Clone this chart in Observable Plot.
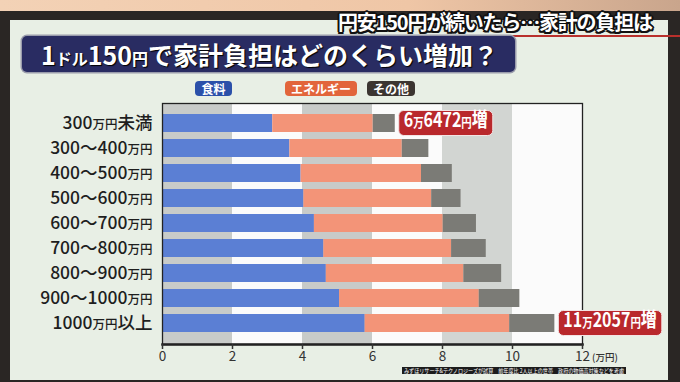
<!DOCTYPE html>
<html><head><meta charset="utf-8">
<script src="https://cdn.jsdelivr.net/npm/d3@7"></script>
<script src="https://cdn.jsdelivr.net/npm/@observablehq/plot@0.6"></script>
<style>
html,body{margin:0;padding:0;}
body{width:680px;height:382px;overflow:hidden;position:relative;background:linear-gradient(90deg,#f3d2b6,#efc6a6 60%,#c9a58c);font-family:"Noto Sans CJK JP",sans-serif;}
#frame{position:absolute;left:0;top:11px;width:680px;height:371px;background:#2a2624;}
#board{position:absolute;left:10px;top:20px;width:658px;height:360px;background:#e8efe5;}
#chart{position:absolute;left:0;top:0;width:680px;height:382px;}
#redline{position:absolute;left:335px;top:35px;width:345px;height:2px;background:#b9302c;}
#header{position:absolute;left:338px;top:7px;font-size:20px;font-weight:700;color:#fff;white-space:nowrap;letter-spacing:-1.2px;
  text-shadow:-2px 0 #111,2px 0 #111,0 -2px #111,0 2px #111,-1.5px -1.5px #111,1.5px 1.5px #111,-1.5px 1.5px #111,1.5px -1.5px #111;}
#title{position:absolute;left:22px;top:36px;width:493px;height:36px;background:#292c62;border-radius:5px;box-shadow:0 0 0 1.5px #9a9cac;}
#titletext{position:absolute;left:19px;top:0;line-height:36px;font-size:25px;font-weight:700;color:#fff;white-space:nowrap;
  text-shadow:1px 1px 1px #000;}
#titletext .s{font-size:16px;}
.pill{position:absolute;top:81px;height:15px;line-height:15px;border-radius:4px;color:#fff;font-size:12px;font-weight:700;text-align:center;}
#caption{position:absolute;left:402px;top:367px;width:224px;height:7px;background:#1c1c1c;overflow:hidden;}
#captext{position:absolute;left:2px;top:0;font-size:6px;line-height:7px;color:#fff;white-space:nowrap;transform-origin:0 0;}
</style></head>
<body>
<div id="frame"></div>
<div id="board"></div>
<div id="chart"></div>
<div id="redline"></div>
<div id="header">円安150円が続いたら…家計の負担は</div>
<div id="title"><div id="titletext">1<span class="s">ドル</span>150<span class="s">円</span>で家計負担はどのくらい増加？</div></div>
<div class="pill" style="left:195px;width:37px;background:#2b50a9">食料</div>
<div class="pill" style="left:285px;width:72px;background:#e2653b">エネルギー</div>
<div class="pill" style="left:367px;width:48px;background:#3b3531">その他</div>
<div id="caption"><div id="captext">みずほリサーチ&amp;テクノロジーズが試算　前年度比 2人以上の世帯　政府の物価高対策などを考慮</div></div>
<script>
const categories = ["300万円未満","300〜400万円","400〜500万円","500〜600万円","600〜700万円","700〜800万円","800〜900万円","900〜1000万円","1000万円以上"];
const types = ["食料","エネルギー","その他"];
const food   = [3.15,3.64,3.96,4.04,4.34,4.61,4.68,5.06,5.79];
const energy = [2.87,3.21,3.44,3.65,3.68,3.65,3.93,3.99,4.13];
const other  = [0.63,0.76,0.88,0.84,0.95,0.99,1.08,1.16,1.29];
const xTicks = [0,2,4,6,8,10,12];
const bandCols = [[0,2,"a"],[4,6,"a"],[8,10,"b"]];
const callouts = [{cat:"300万円未満", parts:[["6",1],["万",0],["6472",1],["円",0],["増",1]]},
                  {cat:"1000万円以上", parts:[["11",1],["万",0],["2057",1],["円",0],["増",1]]}];

const series = [food, energy, other];
const rows = [];
categories.forEach((c,i)=>types.forEach((t,j)=>rows.push({cat:c,type:t,value:series[j][i]})));
const totals = categories.map((c,i)=>food[i]+energy[i]+other[i]);
const cols = bandCols.map(([a,b,k])=>({x1:a,x2:b,k}));

const plot = Plot.plot({
  width:680, height:382,
  marginLeft:162, marginRight:98, marginTop:103, marginBottom:38,
  style:{background:"transparent", fontFamily:"'Noto Sans CJK JP', sans-serif", color:"#1e1e1e", overflow:"visible"},
  x:{domain:[0,12], label:null},
  y:{domain:categories, paddingInner:0.27, paddingOuter:0.27, label:null},
  color:{domain:types, range:["#5b7fd4","#f39478","#7b7b76"]},
  marks:[
    Plot.frame({fill:"#fbfbfb"}),
    Plot.rect(cols,{x1:"x1",x2:"x2",fill:d=>d.k==="a"?"#c8cbc9":"#d2d5d2"}),
    Plot.barX(rows, Plot.stackX({x:"value", y:"cat", fill:"type", order:null})),
    Plot.frame({stroke:"#222", strokeWidth:1.3}),
    Plot.frame({anchor:"bottom", stroke:"#222", strokeWidth:2.5}),
    Plot.axisX({ticks:xTicks, tickSize:5, tickPadding:2, fontSize:13.5, stroke:"#333", strokeWidth:1.5, fill:"#333", label:null}),
    Plot.axisY({tickSize:0, tickPadding:10, fontSize:17.5, fontWeight:500, fill:"#1e1e1e", label:null})
  ]
});
document.getElementById("chart").appendChild(plot);

const NS = "http://www.w3.org/2000/svg";
plot.querySelectorAll('[aria-label="y-axis tick label"] text').forEach(t=>{
  const s = t.textContent; const p = s.split("万円");
  t.textContent = "";
  const a = document.createElementNS(NS,"tspan"); a.textContent = p[0]; t.appendChild(a);
  const b = document.createElementNS(NS,"tspan"); b.textContent = "万円"; b.setAttribute("font-size","12.5"); t.appendChild(b);
  if (p[1]) { const c = document.createElementNS(NS,"tspan"); c.textContent = p[1]; t.appendChild(c); }
});

const xs = plot.scale("x"), ys = plot.scale("y");
const bw = ys.bandwidth;
const unit = document.createElementNS(NS,"text");
unit.setAttribute("x", xs.apply(12)+10); unit.setAttribute("y", 382-38+17);
unit.setAttribute("text-anchor","start");
unit.setAttribute("font-size","9.5"); unit.setAttribute("font-weight","500"); unit.setAttribute("fill","#333");
unit.textContent = "(万円)";
plot.appendChild(unit);

callouts.forEach(co=>{
  const i = categories.indexOf(co.cat);
  const px = xs.apply(totals[i]) + 4;
  const cy = ys.apply(co.cat) + bw/2;
  const g = document.createElementNS(NS,"g");
  g.setAttribute("transform", `translate(${px},${cy})`);
  const r = document.createElementNS(NS,"rect");
  const tg = document.createElementNS(NS,"g");
  tg.setAttribute("transform","translate(5,0) scale(0.8,1)");
  const t = document.createElementNS(NS,"text");
  t.setAttribute("x",0); t.setAttribute("y",0); t.setAttribute("dy","0.36em");
  t.setAttribute("text-anchor","start");
  t.setAttribute("fill","#fff"); t.setAttribute("font-weight","700");
  co.parts.forEach(([s,big])=>{
    const sp = document.createElementNS(NS,"tspan"); sp.textContent = s;
    sp.setAttribute("font-size", big?20:13); t.appendChild(sp);
  });
  tg.appendChild(t);
  g.appendChild(r); g.appendChild(tg); plot.appendChild(g);
  const w = t.getComputedTextLength()*0.8;
  r.setAttribute("x", 0); r.setAttribute("y", -12.5);
  r.setAttribute("width", w+10); r.setAttribute("height", 25); r.setAttribute("rx",5);
  r.setAttribute("fill","#b9282c"); r.setAttribute("stroke","#f3e4e4"); r.setAttribute("stroke-width",1);
});

const ct = document.getElementById("captext");
const sc = 220/ct.scrollWidth;
ct.style.transform = `scaleX(${sc})`;
</script>
</body></html>
